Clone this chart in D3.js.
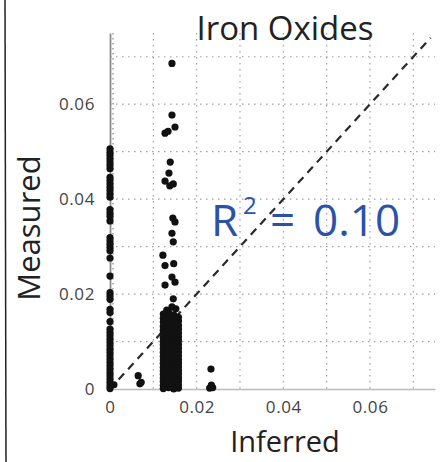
<!DOCTYPE html>
<html>
<head>
<meta charset="utf-8">
<script src="https://cdn.jsdelivr.net/npm/d3@7"></script>
<style>
  body { margin: 0; background: #fff; }
  svg { display: block; }
</style>
</head>
<body>
<div id="chart"></div>
<script>
// measured values for samples whose inferred value is 0
const zeroInferredMeasured = [
  0.0506, 0.0499, 0.0492, 0.0485, 0.0478, 0.0471, 0.0464, 0.0446, 0.0439, 0.0432,
  0.0425, 0.0418, 0.0411, 0.0404, 0.0378, 0.0371, 0.0364, 0.0354, 0.0319, 0.0312,
  0.0305, 0.0298, 0.0291, 0.0276, 0.0238, 0.0203, 0.0196, 0.0189, 0.0168, 0.0161,
  0.0142, 0.0126, 0.0119, 0.0112, 0.0105, 0.0098, 0.0091, 0.0084, 0.0077, 0.007,
  0.0063, 0.0056, 0.0049, 0.0042, 0.0035, 0.0028, 0.0021, 0.0014, 0.0007, 0.0001
];

// the sparse upper part of the column near 0.014 inferred
const clusterInferred = [
  0.0143, 0.0143, 0.015, 0.0127, 0.0134, 0.0139, 0.0136, 0.0127, 0.0138, 0.0146,
  0.0145, 0.015, 0.0143, 0.0146, 0.0122, 0.0127, 0.0147, 0.0143, 0.015, 0.0127,
  0.0146, 0.0143, 0.0131, 0.0152
];
const clusterMeasured = [
  0.0686, 0.0577, 0.0552, 0.0539, 0.0543, 0.0478, 0.0455, 0.0438, 0.0428, 0.0432,
  0.036, 0.0352, 0.0328, 0.031, 0.0282, 0.026, 0.0264, 0.0236, 0.0225, 0.0219,
  0.019, 0.0173, 0.0166, 0.0169
];

// dense block near 0.014 inferred, listed by sub-column
const blockInferredA = 0.0123;
const blockMeasuredA = [0.0158, 0.0149, 0.0141, 0.0132, 0.0124, 0.0117, 0.0108, 0.01, 0.0093, 0.0085,
  0.0077, 0.0069, 0.0061, 0.0054, 0.0046, 0.0038, 0.0031, 0.0023, 0.0016, 0.0008, 0.0001];
const blockInferredB = 0.0135;
const blockMeasuredB = [0.0162, 0.0153, 0.0145, 0.0137, 0.0129, 0.0121, 0.0113, 0.0105, 0.0097, 0.0089,
  0.0081, 0.0073, 0.0065, 0.0057, 0.0049, 0.0042, 0.0034, 0.0027, 0.0019, 0.0011, 0.0003];
const blockInferredC = 0.0147;
const blockMeasuredC = [0.0156, 0.0148, 0.014, 0.0133, 0.0125, 0.0116, 0.0109, 0.0101, 0.0092, 0.0084,
  0.0076, 0.0068, 0.006, 0.0053, 0.0045, 0.0037, 0.003, 0.0022, 0.0015, 0.0007, 0.0];
const blockInferredD = 0.0158;
const blockMeasuredD = [0.0151, 0.0143, 0.0134, 0.0126, 0.0118, 0.011, 0.0102, 0.0094, 0.0086, 0.0078,
  0.007, 0.0062, 0.0055, 0.0047, 0.0039, 0.0032, 0.0024, 0.0017, 0.0009, 0.0002];

// scattered samples
const otherInferred = [0.0065, 0.0072, 0.0069, 0.0233, 0.023, 0.0237, 0.0234, 0.0009];
const otherMeasured = [0.0028, 0.0014, 0.0011, 0.0042, 0.0002, 0.0003, 0.0008, 0.0009];

const xTicks = [0, 0.02, 0.04, 0.06];
const yTicks = [0, 0.02, 0.04, 0.06];
const gridValues = [0.01, 0.02, 0.03, 0.04, 0.05, 0.06, 0.07];
const rSquared = "0.10";

const width = 442;
const height = 462;

const svg = d3.select('#chart')
  .append('svg')
  .attr('width', width)
  .attr('height', height);

const xScale = d3.scaleLinear().domain([0, 0.075]).range([110, 435]);
const yScale = d3.scaleLinear().domain([0, 0.075]).range([389, 33]);

// left frame line
svg.append('line')
  .attr('x1', 5).attr('x2', 6)
  .attr('y1', 0).attr('y2', height)
  .attr('stroke', '#222')
  .attr('stroke-width', 1.5);

// dotted grid
const grid = svg.append('g').attr('stroke', '#a0a0a0').attr('stroke-width', 1.2)
  .attr('stroke-dasharray', '1.5,4.5');

grid.selectAll('.vgrid')
  .data(gridValues)
  .enter()
  .append('line')
  .attr('x1', (d) => xScale(d)).attr('x2', (d) => xScale(d))
  .attr('y1', yScale(0.075)).attr('y2', yScale(0));

grid.selectAll('.hgrid')
  .data(gridValues)
  .enter()
  .append('line')
  .attr('x1', xScale(0)).attr('x2', xScale(0.075))
  .attr('y1', (d) => yScale(d)).attr('y2', (d) => yScale(d));

// minor tick dots along the y axis
grid.append('line')
  .attr('x1', xScale(0) + 3).attr('x2', xScale(0) + 3)
  .attr('y1', yScale(0.075)).attr('y2', yScale(0))
  .attr('stroke', '#888')
  .attr('stroke-dasharray', '1.5,3.5');

// axes
const fmt = (d) => (d === 0 ? '0' : d3.format('.2f')(d));

const xAxis = svg.append('g')
  .attr('transform', `translate(0,${yScale(0)})`)
  .call(d3.axisBottom(xScale).tickValues(xTicks).tickSize(0).tickPadding(12).tickFormat(fmt));
xAxis.select('.domain').attr('stroke', '#bbb').attr('stroke-width', 1.5);

const yAxis = svg.append('g')
  .attr('transform', `translate(${xScale(0)},0)`)
  .call(d3.axisLeft(yScale).tickValues(yTicks).tickSize(0).tickPadding(15).tickFormat(fmt));
yAxis.select('.domain').attr('stroke', '#8a8a8a').attr('stroke-width', 1.8);

svg.selectAll('.tick text')
  .attr('font-family', 'Open Sans, sans-serif')
  .attr('font-size', 17)
  .attr('letter-spacing', 0.6)
  .attr('fill', '#444');

// 1:1 line
svg.append('line')
  .attr('x1', xScale(0.002)).attr('y1', yScale(0.002))
  .attr('x2', xScale(0.074)).attr('y2', yScale(0.074))
  .attr('stroke', '#2a2a2a')
  .attr('stroke-width', 2.2)
  .attr('stroke-dasharray', '8,6');

// points
const points = [];
zeroInferredMeasured.forEach((m) => points.push({ inferred: 0, measured: m }));
clusterInferred.forEach((v, i) => points.push({ inferred: v, measured: clusterMeasured[i] }));
blockMeasuredA.forEach((m) => points.push({ inferred: blockInferredA, measured: m }));
blockMeasuredB.forEach((m) => points.push({ inferred: blockInferredB, measured: m }));
blockMeasuredC.forEach((m) => points.push({ inferred: blockInferredC, measured: m }));
blockMeasuredD.forEach((m) => points.push({ inferred: blockInferredD, measured: m }));
otherInferred.forEach((v, i) => points.push({ inferred: v, measured: otherMeasured[i] }));

svg.selectAll('.dot')
  .data(points)
  .enter()
  .append('circle')
  .attr('class', 'dot')
  .attr('cx', (d) => xScale(d.inferred))
  .attr('cy', (d) => yScale(d.measured))
  .attr('r', 3.6)
  .attr('fill', '#111');

// titles
svg.append('text')
  .attr('x', 285).attr('y', 40)
  .attr('text-anchor', 'middle')
  .attr('font-family', 'Open Sans, sans-serif')
  .attr('font-size', 33)
  .attr('fill', '#222')
  .text('Iron Oxides');

svg.append('text')
  .attr('transform', 'translate(40,228) rotate(-90)')
  .attr('text-anchor', 'middle')
  .attr('font-family', 'Open Sans, sans-serif')
  .attr('font-size', 31)
  .attr('fill', '#222')
  .text('Measured');

svg.append('text')
  .attr('x', 285).attr('y', 452)
  .attr('text-anchor', 'middle')
  .attr('font-family', 'Open Sans, sans-serif')
  .attr('font-size', 29)
  .attr('fill', '#222')
  .text('Inferred');

// R squared annotation
const r2 = svg.append('text')
  .attr('y', 236)
  .attr('font-family', 'Open Sans, sans-serif')
  .attr('font-size', 44)
  .attr('fill', '#2a52a8');
r2.append('tspan').attr('x', 211).text('R');
r2.append('tspan').attr('x', 243).attr('y', 214).attr('font-size', 24).text('2');
r2.append('tspan').attr('x', 270).attr('y', 236).text('=');
r2.append('tspan').attr('x', 313).text(rSquared);
</script>
</body>
</html>
